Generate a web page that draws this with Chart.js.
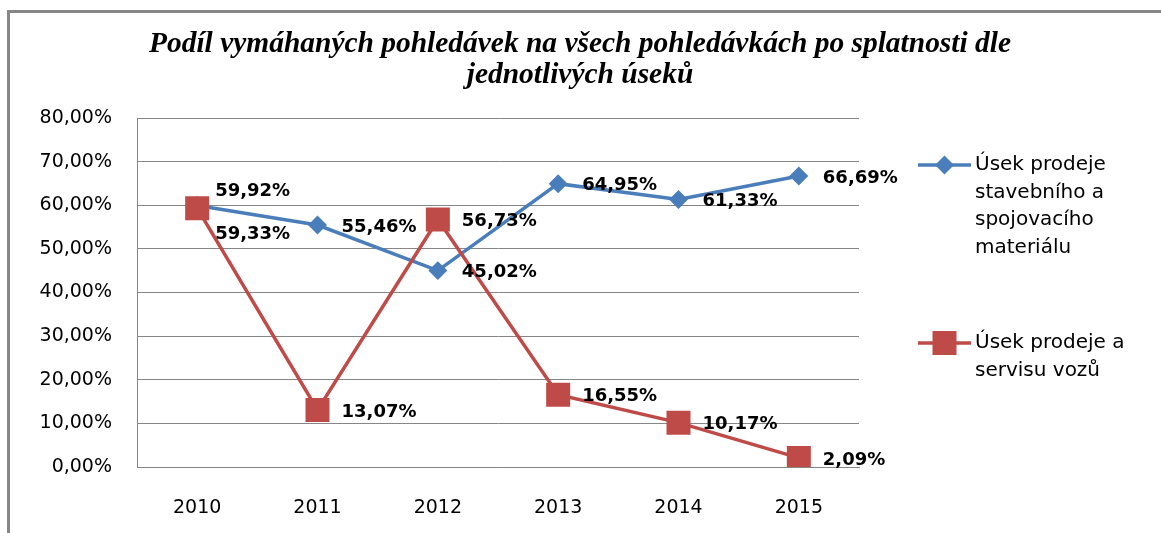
<!DOCTYPE html>
<html>
<head>
<meta charset="utf-8">
<script src="https://cdn.jsdelivr.net/npm/chart.js@4.4.0/dist/chart.umd.min.js"></script>
<style>
  html, body { margin: 0; padding: 0; background: #fff; }
</style>
</head>
<body>
<canvas id="chart" width="1161" height="533"></canvas>
<script>
const years = ['2010', '2011', '2012', '2013', '2014', '2015'];
const stavebni = [59.92, 55.46, 45.02, 64.95, 61.33, 66.69];
const servis = [59.33, 13.07, 56.73, 16.55, 10.17, 2.09];
const yTickLabels = ['0,00%', '10,00%', '20,00%', '30,00%', '40,00%', '50,00%', '60,00%', '70,00%', '80,00%'];
const stavebniName = ['Úsek prodeje', 'stavebního a', 'spojovacího', 'materiálu'];
const servisName = ['Úsek prodeje a', 'servisu vozů'];
const titleLines = ['Podíl vymáhaných pohledávek na všech pohledávkách po splatnosti dle', 'jednotlivých úseků'];

const colorBlue = '#4A7EBB';
const colorRed = '#BE4B48';
const colorGrid = '#868686';

function percent(v) {
  return v.toFixed(2).replace('.', ',') + '%';
}

// grey frame, only top and left edges fall inside the picture
const frame = {
  id: 'frame',
  beforeDraw(chart) {
    const { ctx } = chart;
    ctx.save();
    ctx.strokeStyle = '#878787';
    ctx.lineWidth = 3;
    ctx.strokeRect(8.5, 11.5, 1300, 700);
    ctx.restore();
  },
};

const titleBlock = {
  id: 'titleBlock',
  afterDraw(chart) {
    const { ctx } = chart;
    ctx.save();
    ctx.font = 'italic bold 29px "Liberation Serif"';
    ctx.fillStyle = '#000';
    ctx.textAlign = 'center';
    ctx.textBaseline = 'middle';
    const sx = 862 / ctx.measureText(titleLines[0]).width;
    ctx.translate(580, 0);
    ctx.scale(sx, 1);
    titleLines.forEach((line, i) => {
      ctx.fillText(line, 0, 45 + i * 31);
    });
    ctx.restore();
  },
};

const pointLabels = {
  id: 'pointLabels',
  afterDatasetsDraw(chart) {
    const { ctx } = chart;
    const sets = chart.data.datasets;
    ctx.save();
    ctx.font = 'bold 18px "DejaVu Sans"';
    ctx.fillStyle = '#000';
    ctx.textAlign = 'left';
    ctx.textBaseline = 'middle';
    sets.forEach((ds, di) => {
      const meta = chart.getDatasetMeta(di);
      meta.data.forEach((pt, i) => {
        const v = ds.data[i];
        let dx = 24;
        let dy = 2;
        // two series nearly equal: split labels above / below
        sets.forEach((other, oi) => {
          if (oi !== di && Math.abs(other.data[i] - v) < 3) {
            dx = 18;
            dy = v > other.data[i] ? -14 : 26;
          }
        });
        ctx.fillText(percent(v), pt.x + dx, pt.y + dy);
      });
    });
    ctx.restore();
  },
};

const sideLegend = {
  id: 'sideLegend',
  afterDraw(chart) {
    const { ctx } = chart;
    const rows = [165, 343];
    ctx.save();
    chart.data.datasets.forEach((ds, i) => {
      const y = rows[i];
      ctx.strokeStyle = ds.borderColor;
      ctx.lineWidth = ds.borderWidth;
      ctx.beginPath();
      ctx.moveTo(918, y);
      ctx.lineTo(971, y);
      ctx.stroke();
      ctx.fillStyle = ds.pointBackgroundColor;
      ctx.strokeStyle = ds.pointBorderColor;
      Chart.helpers.drawPoint(ctx, {
        pointStyle: ds.pointStyle,
        radius: ds.pointRadius,
        rotation: 0,
        borderWidth: 1,
      }, 944.5, y);
      ctx.font = '20px "DejaVu Sans"';
      ctx.fillStyle = '#000';
      ctx.textAlign = 'left';
      ctx.textBaseline = 'middle';
      ds.nameLines.forEach((line, k) => {
        ctx.fillText(line, 975, y + k * 27.5);
      });
    });
    ctx.restore();
  },
};

const chart = new Chart(document.getElementById('chart'), {
  type: 'line',
  data: {
    labels: years,
    datasets: [
      {
        label: stavebniName.join(' '),
        nameLines: stavebniName,
        data: stavebni,
        borderColor: colorBlue,
        backgroundColor: colorBlue,
        pointBackgroundColor: colorBlue,
        pointBorderColor: colorBlue,
        borderWidth: 3.5,
        pointStyle: 'rectRot',
        pointRadius: 7,
        order: 1,
      },
      {
        label: servisName.join(' '),
        nameLines: servisName,
        data: servis,
        borderColor: colorRed,
        backgroundColor: colorRed,
        pointBackgroundColor: colorRed,
        pointBorderColor: colorRed,
        borderWidth: 3.5,
        pointStyle: 'rect',
        pointRadius: 14.5,
        order: 0,
      },
    ],
  },
  options: {
    responsive: false,
    animation: false,
    devicePixelRatio: 1,
    layout: {
      padding: { top: 118, right: 302, bottom: 0, left: 0 },
    },
    plugins: {
      legend: { display: false },
      tooltip: { enabled: false },
      title: { display: false },
    },
    scales: {
      x: {
        offset: true,
        grid: { display: false },
        border: { display: true, color: colorGrid, width: 1 },
        ticks: {
          color: '#000',
          font: { family: 'DejaVu Sans', size: 19 },
          padding: 22,
          maxRotation: 0,
        },
        afterFit(scale) {
          scale.height = 66;
        },
      },
      y: {
        min: 0,
        max: 80,
        grid: { color: colorGrid, lineWidth: 1, drawTicks: false },
        border: { display: true, color: colorGrid, width: 1 },
        ticks: {
          stepSize: 10,
          color: '#000',
          font: { family: 'DejaVu Sans', size: 19 },
          padding: 25,
          callback: (value, index) => yTickLabels[index],
        },
        afterFit(scale) {
          scale.width = 137;
        },
      },
    },
  },
  plugins: [frame, titleBlock, pointLabels, sideLegend],
});
</script>
</body>
</html>
